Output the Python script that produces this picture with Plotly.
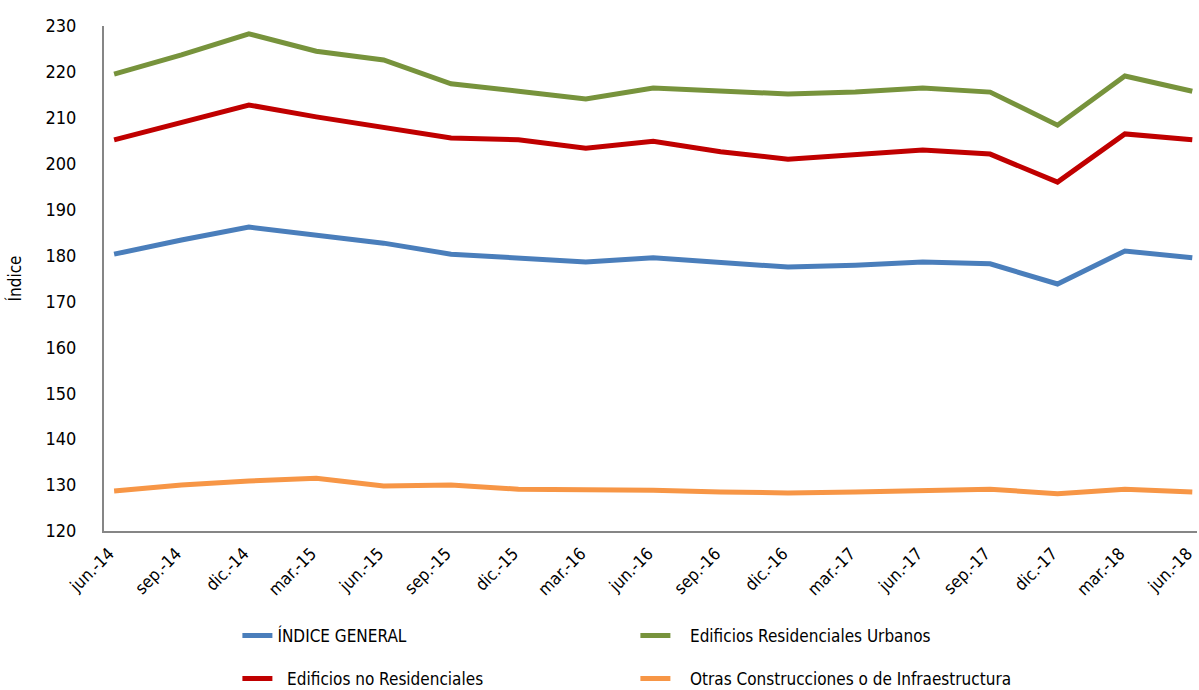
import plotly.graph_objects as go

# Datos del grafico ----------
periodos = ["jun.-14", "sep.-14", "dic.-14", "mar.-15", "jun.-15", "sep.-15", "dic.-15", "mar.-16",
            "jun.-16", "sep.-16", "dic.-16", "mar.-17", "jun.-17", "sep.-17", "dic.-17", "mar.-18", "jun.-18"]

indice_general = [180.3, 183.4, 186.2, 184.5, 182.7, 180.3, 179.5, 178.6,
                  179.5, 178.4, 177.5, 177.9, 178.6, 178.2, 173.8, 181.0, 179.5]
residenciales_urbanos = [219.5, 223.7, 228.3, 224.5, 222.6, 217.4, 215.8, 214.1,
                         216.5, 215.8, 215.2, 215.6, 216.5, 215.6, 208.4, 219.1, 215.8]
no_residenciales = [205.2, 208.9, 212.8, 210.2, 207.8, 205.6, 205.2, 203.4,
                    204.9, 202.6, 201.0, 201.9, 203.0, 202.1, 196.0, 206.5, 205.2]
otras_construcciones = [128.7, 130.0, 130.9, 131.5, 129.8, 130.0, 129.1, 129.1,
                        128.9, 128.5, 128.3, 128.5, 128.7, 129.1, 128.1, 129.1, 128.5]

FUENTE = "DejaVu Sans Condensed, Liberation Sans Narrow, Liberation Sans, Arial"
NB = "\u00a0"

series = [
    ("ÍNDICE GENERAL", indice_general, "#4a7ebb", "legend"),
    (NB * 3 + "Edificios Residenciales Urbanos", residenciales_urbanos, "#77933c", "legend"),
    (NB * 2 + "Edificios no Residenciales", no_residenciales, "#c00000", "legend2"),
    (NB * 3 + "Otras Construcciones o de Infraestructura", otras_construcciones, "#f79646", "legend2"),
]

fig = go.Figure()
for nombre, valores, color, leyenda in series:
    fig.add_trace(go.Scatter(x=list(range(len(periodos))), y=valores, name=nombre, mode="lines",
                             line=dict(color=color, width=5), legend=leyenda))

# Leyenda en dos filas, cada una con su propia leyenda
leyenda_base = dict(orientation="h", xanchor="left", yanchor="middle", x=0.198, xref="container",
                    yref="container", entrywidth=353, font=dict(family=FUENTE, size=17, color="black"),
                    bgcolor="rgba(0,0,0,0)")

fig.update_layout(
    width=1199, height=690,
    margin=dict(l=104, r=2, t=26, b=159, autoexpand=False),
    plot_bgcolor="white", paper_bgcolor="white",
    font=dict(family=FUENTE, size=17, color="black"),
    legend=dict(leyenda_base, y=1 - 636 / 690),
    legend2=dict(leyenda_base, y=1 - 679 / 690),
    showlegend=True,
)

fig.update_xaxes(
    range=[-0.15, 16.07], tickmode="array", tickvals=list(range(len(periodos))), ticktext=periodos,
    tickangle=-45, showgrid=False, zeroline=False, showline=True, linecolor="#868686", linewidth=2,
    layer="above traces", ticks="", ticklabelstandoff=4, ticklabelshift=-5, ticklabeloverflow="allow",
    tickfont=dict(family=FUENTE, size=17),
)
fig.update_yaxes(
    range=[120, 230], dtick=10, showgrid=False, zeroline=False, showline=True, linecolor="#868686",
    linewidth=2, layer="above traces", ticks="", ticklabelstandoff=22, tickfont=dict(family=FUENTE, size=18),
    title=dict(text="Índice", font=dict(family=FUENTE, size=17), standoff=20),
)

fig.write_html("out.html", config={"displayModeBar": False},
               post_script="document.body.style.margin='0';")
